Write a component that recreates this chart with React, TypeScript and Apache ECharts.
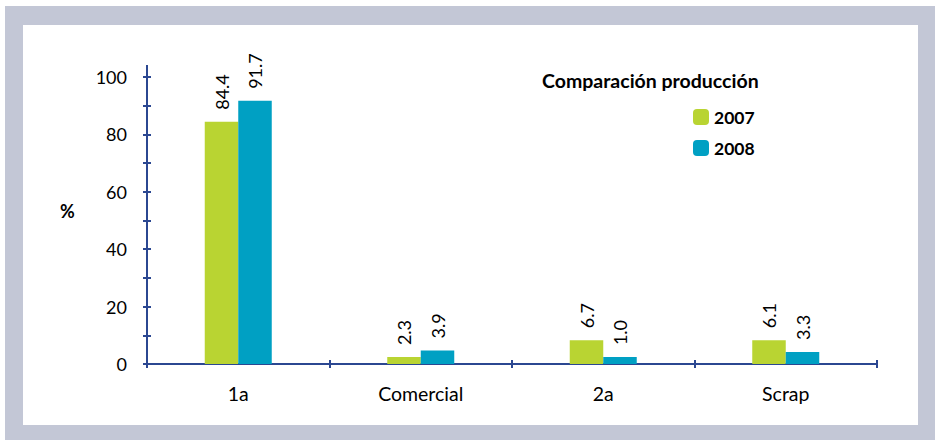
import React, { useEffect, useRef } from "react";
import * as echarts from "echarts";

const categories = ["1a", "Comercial", "2a", "Scrap"];
const seriesNames = ["2007", "2008"];
// bar heights as drawn in the picture
const values2007 = [84.4, 2.4, 8.3, 8.3];
const values2008 = [91.7, 4.7, 2.4, 4.2];
// value labels as printed above the bars
const labels2007 = ["84.4", "2.3", "6.7", "6.1"];
const labels2008 = ["91.7", "3.9", "1.0", "3.3"];
const yTicks = [0, 20, 40, 60, 80, 100];

const FONT = "Lato, 'Noto Sans', sans-serif";
const AXIS = "#2b4791";
const GREEN = "#b9d432";
const BLUE = "#00a0c3";

export default function App() {
  const ref = useRef<HTMLDivElement>(null);
  useEffect(() => {
    if (!ref.current) return;
    const chart = echarts.init(ref.current, null, { renderer: "svg" });
    const grid = { left: 147, right: 58, top: 77, bottom: 76 };
    const yBase = {
      type: "value" as const,
      min: 0,
      max: 100,
      interval: 10,
      splitLine: { show: false },
    };
    const mkLabel = (arr: string[]) => ({
      show: true,
      position: "top" as const,
      distance: 12,
      rotate: 90,
      align: "left" as const,
      verticalAlign: "middle" as const,
      fontFamily: FONT,
      fontSize: 18,
      color: "#000",
      formatter: (p: any) => arr[p.dataIndex],
    });
    chart.setOption({
      animation: false,
      backgroundColor: "#ffffff",
      title: {
        text: "Comparación producción",
        left: 537,
        top: 65,
        textStyle: { fontFamily: FONT, fontSize: 19.5, fontWeight: "bold", color: "#000" },
      },
      legend: {
        orient: "vertical",
        left: 688,
        top: 103,
        itemWidth: 16,
        itemHeight: 16,
        itemGap: 13,
        data: seriesNames,
        textStyle: { fontFamily: FONT, fontSize: 17.5, fontWeight: "bold", color: "#000" },
      },
      graphic: [
        { type: "rect", z: -10, silent: true, shape: { x: 5, y: 6, width: 930, height: 434 }, style: { fill: "#c3c7d6" } },
        { type: "rect", z: -9, silent: true, shape: { x: 23, y: 25, width: 895, height: 400 }, style: { fill: "#ffffff" } },
        { type: "line", z: 5, silent: true, shape: { x1: 147, y1: 65, x2: 147, y2: 77 }, style: { stroke: AXIS, lineWidth: 2 } },
        {
          type: "text",
          left: 60,
          top: 202,
          style: { text: "%", fontFamily: FONT, fontSize: 18, fontWeight: "bold", fill: "#000" },
        },
      ],
      grid,
      xAxis: [
        {
          type: "category",
          data: categories,
          axisLine: { lineStyle: { color: AXIS, width: 2 } },
          axisTick: { show: true, length: 4, lineStyle: { color: AXIS, width: 2 } },
          axisLabel: { fontFamily: FONT, fontSize: 19.5, color: "#000", margin: 19 },
        },
        {
          type: "category",
          data: categories,
          position: "bottom",
          axisLine: { show: false },
          axisTick: { show: true, inside: true, length: 4, lineStyle: { color: AXIS, width: 2 } },
          axisLabel: { show: false },
        },
      ],
      yAxis: [
        {
          ...yBase,
          axisLine: { show: true, lineStyle: { color: AXIS, width: 2 } },
          axisTick: { show: true, length: 4, lineStyle: { color: AXIS, width: 2 } },
          axisLabel: {
            fontFamily: FONT,
            fontSize: 18,
            color: "#000",
            margin: 20,
            formatter: (v: number) => (yTicks.includes(v) ? String(v) : ""),
          },
        },
        {
          ...yBase,
          position: "left",
          axisLine: { show: false },
          axisTick: { show: true, inside: true, length: 4, lineStyle: { color: AXIS, width: 2 } },
          axisLabel: { show: false },
        },
      ],
      series: [
        {
          name: seriesNames[0],
          type: "bar",
          data: values2007,
          barWidth: 33.5,
          barGap: "0%",
          itemStyle: { color: GREEN },
          label: mkLabel(labels2007),
        },
        {
          name: seriesNames[1],
          type: "bar",
          data: values2008,
          barWidth: 33.5,
          barGap: "0%",
          itemStyle: { color: BLUE },
          label: mkLabel(labels2008),
        },
      ],
    });
    return () => chart.dispose();
  }, []);
  return (
    <div
      ref={ref}
      style={{ position: "fixed", left: 0, top: 0, width: 935, height: 440 }}
    />
  );
}
